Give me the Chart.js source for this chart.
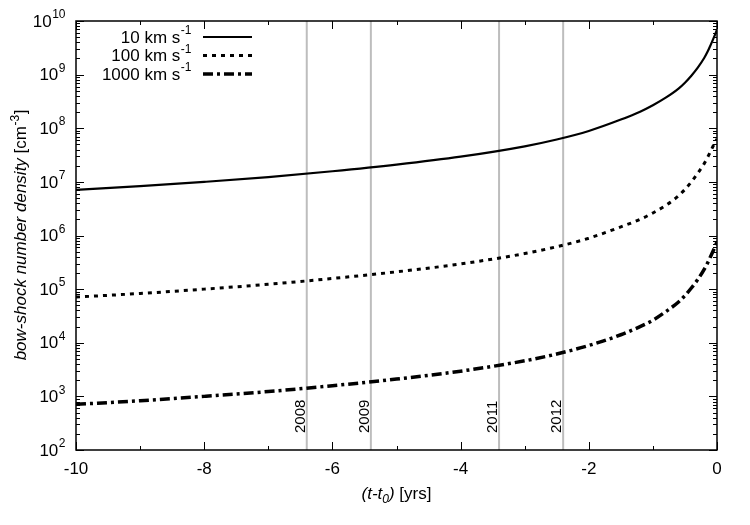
<!DOCTYPE html>
<html>
<head>
<meta charset="utf-8">
<script src="https://cdn.jsdelivr.net/npm/chart.js@4"></script>
<style>
  body { margin: 0; background: #fff; }
  #wrap { width: 750px; height: 525px; }
</style>
</head>
<body>
<div id="wrap"><canvas id="bowshock-chart" width="750" height="525"></canvas></div>
<script>
// time before pericentre (yrs)
var tYrs = [-10, -9, -8, -7, -6, -5, -4, -3, -2.5, -2, -1.5, -1.2, -1, -0.8, -0.6, -0.5, -0.4, -0.3, -0.2, -0.15, -0.1, -0.05, 0];

// bow-shock number density (cm^-3) for each velocity
var n10 = [7.1e6, 8.3e6, 1.0e7, 1.23e7, 1.58e7, 2.1e7, 2.95e7, 4.6e7, 6.17e7, 8.9e7, 1.45e8, 2.04e8, 2.69e8, 3.72e8, 5.5e8, 7.08e8, 9.55e8, 1.35e9, 2.04e9, 2.63e9, 3.55e9, 4.9e9, 6.9e9];
var n100 = [7.1e4, 8.3e4, 1.0e5, 1.23e5, 1.58e5, 2.1e5, 2.95e5, 4.6e5, 6.17e5, 8.9e5, 1.45e6, 2.0e6, 2.63e6, 3.63e6, 5.5e6, 7.24e6, 1.0e7, 1.45e7, 2.19e7, 2.82e7, 3.72e7, 4.9e7, 6.3e7];
var n1000 = [7.1e2, 8.3e2, 1.0e3, 1.23e3, 1.58e3, 2.1e3, 2.95e3, 4.6e3, 6.17e3, 8.9e3, 1.41e4, 2.0e4, 2.63e4, 3.8e4, 5.75e4, 7.6e4, 1.05e5, 1.51e5, 2.34e5, 3.02e5, 4.07e5, 5.5e5, 7.6e5];

var seriesLabels = ['10 km s', '100 km s', '1000 km s'];

// observation epochs
var eventYears = ['2008', '2009', '2011', '2012'];
var eventT = [-6.4, -5.4, -3.4, -2.4];

var FONT = '"Liberation Sans", Arial, Helvetica, sans-serif';

function pts(ys){
	return tYrs.map(function(t, i){ return {x: t, y: ys[i]}; });
}

var datasets = [
	{ label: seriesLabels[0], data: pts(n10), borderColor: '#000', borderWidth: 2.2, borderDash: [], pointRadius: 0, cubicInterpolationMode: 'monotone', fill: false },
	{ label: seriesLabels[1], data: pts(n100), borderColor: '#000', borderWidth: 3, borderDash: [4, 5], pointRadius: 0, cubicInterpolationMode: 'monotone', fill: false },
	{ label: seriesLabels[2], data: pts(n1000), borderColor: '#000', borderWidth: 3.5, borderDash: [10, 4, 3, 4], pointRadius: 0, cubicInterpolationMode: 'monotone', fill: false }
];
for (var i = 0; i < eventT.length; i++){
	datasets.push({
		label: eventYears[i],
		data: [{x: eventT[i], y: 1e2}, {x: eventT[i], y: 1e10}],
		borderColor: '#bdbdbd', borderWidth: 2, pointRadius: 0, fill: false
	});
}

function supText(ctx, x, y, base, sup, baseSize, supSize, italic, align){
	var st = italic ? 'italic ' : '';
	ctx.font = st + baseSize + 'px ' + FONT;
	var wb = ctx.measureText(base).width;
	ctx.font = supSize + 'px ' + FONT;
	var ws = ctx.measureText(sup).width;
	var x0 = x;
	if (align === 'right') x0 = x - wb - ws;
	if (align === 'center') x0 = x - (wb + ws) / 2;
	ctx.textAlign = 'left';
	ctx.font = st + baseSize + 'px ' + FONT;
	ctx.fillText(base, x0, y);
	ctx.font = supSize + 'px ' + FONT;
	ctx.fillText(sup, x0 + wb + 0.5, y - baseSize * 0.42);
}

var framePlugin = {
	id: 'frame',
	afterDraw: function(chart){
		var ctx = chart.ctx;
		var a = chart.chartArea;
		var xs = chart.scales.x, ys = chart.scales.y;
		ctx.save();
		ctx.fillStyle = '#000';
		ctx.strokeStyle = '#000';

		// year labels
		ctx.font = '15px ' + FONT;
		ctx.textAlign = 'left';
		ctx.textBaseline = 'middle';
		for (var i = 0; i < eventT.length; i++){
			var px = xs.getPixelForValue(eventT[i]);
			ctx.save();
			ctx.translate(px - 6, a.bottom - 17);
			ctx.rotate(-Math.PI / 2);
			ctx.fillText(eventYears[i], 0, 0);
			ctx.restore();
		}

		// border
		ctx.lineWidth = 1.5;
		ctx.strokeRect(a.left, a.top, a.right - a.left, a.bottom - a.top);

		// x ticks (inward, bottom and top)
		ctx.lineWidth = 1;
		ctx.beginPath();
		for (var v = -10; v <= 0; v++){
			var p = Math.round(xs.getPixelForValue(v)) + 0.5;
			var len = (v % 2 === 0) ? 8 : 4;
			ctx.moveTo(p, a.bottom); ctx.lineTo(p, a.bottom - len);
			ctx.moveTo(p, a.top); ctx.lineTo(p, a.top + len);
		}
		// y ticks (inward, left and right)
		for (var d = 2; d <= 10; d++){
			for (var k = 1; k <= 9; k++){
				if (d === 10 && k > 1) break;
				var py = Math.round(ys.getPixelForValue(k * Math.pow(10, d))) + 0.5;
				var l = (k === 1) ? 8 : 4;
				ctx.moveTo(a.left, py); ctx.lineTo(a.left + l, py);
				ctx.moveTo(a.right, py); ctx.lineTo(a.right - l, py);
			}
		}
		ctx.stroke();

		// y tick labels
		ctx.textBaseline = 'middle';
		for (var e = 2; e <= 10; e++){
			var yy = ys.getPixelForValue(Math.pow(10, e));
			supText(ctx, 65, yy + 1, '10', String(e), 17, 12, false, 'right');
		}

		// x title: (t-t0) [yrs]
		ctx.textBaseline = 'alphabetic';
		var cx = (a.left + a.right) / 2;
		ctx.font = 'italic 17px ' + FONT;
		var w1 = ctx.measureText('(t-t').width;
		ctx.font = 'italic 12px ' + FONT;
		var w2 = ctx.measureText('0').width;
		ctx.font = 'italic 17px ' + FONT;
		var w3 = ctx.measureText(')').width;
		ctx.font = '17px ' + FONT;
		var w4 = ctx.measureText(' [yrs]').width;
		var x0 = cx - (w1 + w2 + w3 + w4) / 2;
		var by = 499;
		ctx.textAlign = 'left';
		ctx.font = 'italic 17px ' + FONT;
		ctx.fillText('(t-t', x0, by);
		ctx.font = 'italic 12px ' + FONT;
		ctx.fillText('0', x0 + w1, by + 4);
		ctx.font = 'italic 17px ' + FONT;
		ctx.fillText(')', x0 + w1 + w2, by);
		ctx.font = '17px ' + FONT;
		ctx.fillText(' [yrs]', x0 + w1 + w2 + w3, by);

		// y title: bow-shock number density [cm-3]
		ctx.save();
		ctx.translate(26, (a.top + a.bottom) / 2);
		ctx.rotate(-Math.PI / 2);
		ctx.font = 'italic 17px ' + FONT;
		var t1 = 'bow-shock number density';
		var u1 = ctx.measureText(t1).width;
		ctx.font = '17px ' + FONT;
		var u2 = ctx.measureText(' [cm').width;
		ctx.font = '12px ' + FONT;
		var u3 = ctx.measureText('-3').width;
		ctx.font = '17px ' + FONT;
		var u4 = ctx.measureText(']').width;
		var s0 = -(u1 + u2 + u3 + u4) / 2;
		ctx.font = 'italic 17px ' + FONT;
		ctx.fillText(t1, s0, 0);
		ctx.font = '17px ' + FONT;
		ctx.fillText(' [cm', s0 + u1, 0);
		ctx.font = '12px ' + FONT;
		ctx.fillText('-3', s0 + u1 + u2 + 0.5, -7);
		ctx.font = '17px ' + FONT;
		ctx.fillText(']', s0 + u1 + u2 + u3 + 1, 0);
		ctx.restore();

		// legend (text right aligned, sample on the right)
		ctx.textBaseline = 'middle';
		for (var r = 0; r < 3; r++){
			var ds = chart.data.datasets[r];
			var ly = 37 + r * 18.5;
			supText(ctx, 191, ly + 1, ds.label, '-1', 17, 12, false, 'right');
			ctx.beginPath();
			ctx.lineWidth = ds.borderWidth;
			ctx.setLineDash(ds.borderDash);
			ctx.moveTo(203, ly); ctx.lineTo(252, ly);
			ctx.stroke();
			ctx.setLineDash([]);
		}
		ctx.restore();
	}
};

new Chart(document.getElementById('bowshock-chart'), {
	type: 'line',
	data: { datasets: datasets },
	options: {
		responsive: false,
		animation: false,
		layout: { padding: { left: 0, right: 33, top: 21, bottom: 0 } },
		plugins: { legend: { display: false }, tooltip: { enabled: false } },
		scales: {
			x: {
				type: 'linear', min: -10, max: 0,
				grid: { display: false, drawTicks: false },
				border: { display: false },
				ticks: { stepSize: 2, color: '#000', padding: 9, font: { size: 17, family: FONT }, maxRotation: 0 },
				afterFit: function(s){ s.height = 75; }
			},
			y: {
				type: 'logarithmic', min: 1e2, max: 1e10,
				grid: { display: false, drawTicks: false },
				border: { display: false },
				ticks: { display: false },
				afterFit: function(s){ s.width = 76; }
			}
		}
	},
	plugins: [framePlugin]
});
</script>
</body>
</html>
